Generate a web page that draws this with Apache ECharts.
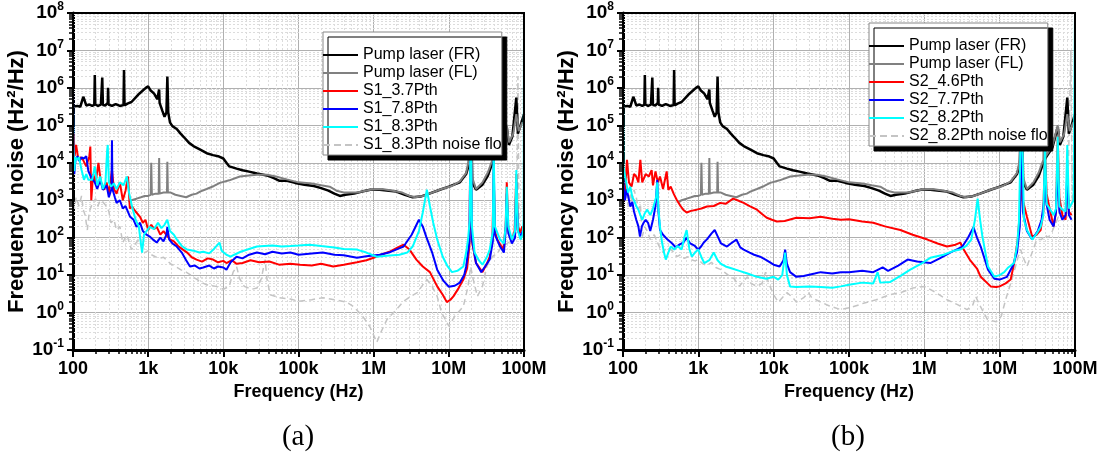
<!DOCTYPE html>
<html><head><meta charset="utf-8">
<script src="https://cdn.jsdelivr.net/npm/echarts@6/dist/echarts.min.js"></script>
<style>html,body{margin:0;padding:0;background:#fff}#c{width:1102px;height:459px}</style>
</head><body><div id="c"></div>
<script>
// ---- tick labels ----
const xTickValues = [100, 1e3, 1e4, 1e5, 1e6, 1e7, 1e8];
const xTickLabels = ['100', '1k', '10k', '100k', '1M', '10M', '100M'];
const yTickExponents = [-1, 0, 1, 2, 3, 4, 5, 6, 7, 8];

// ---- series names ----
const namesA = ['Pump laser (FR)', 'Pump laser (FL)', 'S1_3.7Pth', 'S1_7.8Pth', 'S1_8.3Pth', 'S1_8.3Pth noise floor'];
const namesB = ['Pump laser (FR)', 'Pump laser (FL)', 'S2_4.6Pth', 'S2_7.7Pth', 'S2_8.2Pth', 'S2_8.2Pth noise floor'];

// ---- data [frequency Hz, noise Hz^2/Hz] ----
const pumpFR = [[100,3.2e5],[105,3.0e5],[115,3.3e5],[125,3.1e5],[132,4.5e5],[137,5.8e5],[143,4.6e5],[150,3.4e5],[165,3.6e5],[180,3.3e5],[192,3.5e5],[195,2.2e6],[198,3.6e5],[215,3.3e5],[235,3.6e5],[245,1.9e6],[250,3.5e5],[270,3.4e5],[290,4.0e5],[293,1.0e6],[297,3.6e5],[330,3.3e5],[370,3.7e5],[420,3.3e5],[470,3.5e5],[477,3.0e6],[485,3.4e5],[530,3.8e5],[600,4.2e5],[680,5.5e5],[760,7.0e5],[850,8.5e5],[930,1.0e6],[1000,1.1e6],[1080,8.5e5],[1200,7.0e5],[1320,5.0e5],[1380,4.5e5],[1400,9.0e5],[1420,4.0e5],[1550,2.4e5],[1650,1.7e5],[1750,2.2e5],[1800,2.0e6],[1850,2.2e5],[1950,1.2e5],[2100,9.5e4],[2400,8.0e4],[2700,6.0e4],[3000,4.8e4],[3500,3.4e4],[4000,2.8e4],[5000,2.2e4],[6000,1.8e4],[7300,1.6e4],[8500,1.5e4],[10000,1.3e4],[11000,1.0e4],[12000,8.0e3],[15000,7.0e3],[18000,6.3e3],[22000,5.8e3],[28000,5.2e3],[38000,4.6e3],[47000,3.9e3],[56000,3.3e3],[70000,3.3e3],[90000,2.9e3],[120000,2.6e3],[160000,2.4e3],[200000,2.1e3],[250000,1.8e3],[300000,1.5e3],[355000,1.3e3],[420000,1.4e3],[550000,1.5e3],[700000,1.7e3],[900000,1.9e3],[1.2e6,1.9e3],[1.6e6,1.8e3],[2.0e6,1.7e3],[2.6e6,1.4e3],[3.3e6,1.2e3],[4.2e6,1.25e3],[5.5e6,1.5e3],[7.6e6,1.9e3],[1.0e7,2.3e3],[1.4e7,3.0e3],[1.7e7,5.0e3],[1.85e7,9e3],[1.95e7,1e6],[2.05e7,3e3],[2.3e7,1.9e3],[2.8e7,2.6e3],[3.3e7,4.5e3],[3.8e7,1.0e4],[4.2e7,1.5e4],[5e7,2.5e4],[5.9e7,9e4],[6.3e7,3e4],[7e7,5e4],[7.9e7,5.5e5],[8.3e7,6e4],[9e7,1e5],[1e8,2e5]];
const pumpFL = [[550,9e2],[600,1.0e3],[700,1.1e3],[800,1.2e3],[900,1.3e3],[1000,1.3e3],[1080,1.4e3],[1100,1.0e4],[1120,1.4e3],[1250,1.5e3],[1380,1.5e3],[1400,1.35e4],[1420,1.5e3],[1600,1.6e3],[1780,1.6e3],[1800,1.07e4],[1830,1.6e3],[2000,1.6e3],[2300,1.4e3],[2700,1.3e3],[3200,1.2e3],[3800,1.4e3],[4400,1.5e3],[4900,1.7e3],[6000,2.0e3],[7500,2.4e3],[9000,2.9e3],[12000,3.4e3],[16600,4.3e3],[22000,4.6e3],[28000,4.8e3],[38000,4.8e3],[50000,4.3e3],[70000,3.6e3],[100000,3.0e3],[150000,2.8e3],[200000,2.5e3],[260000,2.3e3],[320000,1.8e3],[400000,1.6e3],[600000,1.6e3],[900000,1.9e3],[1.3e6,2.0e3],[1.8e6,1.8e3],[2.4e6,1.6e3],[3.0e6,1.3e3],[3.6e6,1.2e3],[4.5e6,1.3e3],[6e6,1.6e3],[8e6,2.0e3],[1.1e7,2.4e3],[1.4e7,3.2e3],[1.7e7,5.4e3],[1.85e7,1.2e4],[1.95e7,1e6],[2.05e7,4e3],[2.3e7,2.0e3],[2.8e7,3.0e3],[3.3e7,5.5e3],[3.8e7,1.2e4],[3.95e7,1.6e6],[4.1e7,1.5e4],[5e7,2.8e4],[5.9e7,1e5],[6.3e7,3.5e4],[7.2e7,6e4],[7.9e7,2e5],[8.5e7,7e4],[9.5e7,1.2e5]];

const s1_37 = [[100,2e4],[102,6e4],[105,1.5e4],[110,3e4],[118,1.2e4],[125,1.4e4],[136,1.2e4],[150,8e3],[165,1.5e4],[170,2.7e4],[175,1e3],[185,5e3],[200,3e3],[218,1e4],[235,3e3],[260,1.9e3],[280,3e3],[300,1.5e3],[330,6.4e3],[350,2e3],[380,1.5e3],[420,3e3],[460,1e3],[500,1.8e3],[540,4.3e3],[570,600],[610,680],[680,500],[780,360],[850,250],[920,300],[1000,160],[1100,220],[1200,170],[1300,195],[1450,120],[1600,150],[1800,110],[1950,90],[2200,80],[2500,60],[2900,48],[3300,40],[3800,30],[4400,26],[5200,23],[6200,28],[7300,26],[8500,22],[10000,24],[11000,21],[13000,25],[15000,20],[18000,21],[23000,25],[30000,22],[41000,23],[55000,19],[78000,20],[105000,19],[150000,18],[200000,20],[290000,17],[400000,19],[600000,22],[800000,25],[1e6,29],[1.3e6,36],[1.66e6,43],[2.1e6,55],[2.5e6,65],[3e6,48],[3.7e6,26],[4.5e6,17],[5.6e6,12],[7e6,5],[8.3e6,3],[9.4e6,1.9],[10.5e6,2.2],[11.5e6,2.7],[13.5e6,4.5],[15.6e6,7.6],[17.5e6,15],[18.8e6,60],[19.5e6,2e5],[20.3e6,80],[23e6,21],[28e6,12],[32e6,20],[35e6,31],[38e6,90],[39.5e6,5.4e3],[41e6,150],[44e6,89],[53e6,48],[57e6,200],[59e6,3e3],[62e6,150],[69e6,89],[75e6,150],[79e6,5e3],[83e6,200],[89e6,135],[95e6,200]];
const s1_78 = [[100,1e6],[101,3e4],[104,5e3],[108,1.2e4],[115,1.5e4],[122,1.1e4],[130,1.4e4],[140,1.3e4],[150,1.5e4],[160,6e3],[175,4e3],[195,3e3],[210,2e3],[230,3.5e3],[250,1.9e3],[280,2.5e3],[300,1.2e3],[325,2e3],[330,4e4],[335,2e3],[360,1.2e3],[380,850],[420,1e3],[460,600],[500,700],[575,360],[640,300],[700,195],[780,250],[850,150],[950,120],[1050,107],[1150,90],[1300,74],[1450,100],[1600,80],[1750,120],[1800,195],[1900,90],[2100,70],[2400,58],[2800,40],[3200,25],[3600,17],[4200,18],[4800,15],[5400,16],[6500,18],[7500,15],[8500,17],[10000,16],[11000,14],[12500,22],[15000,31],[18000,28],[22000,35],[28000,40],[36000,36],[45000,42],[60000,38],[78000,40],[100000,35],[150000,38],[210000,40],[300000,35],[400000,34],[600000,29],[800000,32],[1.2e6,35],[1.6e6,40],[2.1e6,50],[2.5e6,58],[3.2e6,120],[4e6,300],[4.5e6,200],[5e6,107],[6e6,40],[7e6,14],[8.5e6,7],[10e6,4.9],[12e6,5.2],[14e6,6.3],[16e6,10],[17e6,17],[18.8e6,80],[19.5e6,2e5],[20.3e6,90],[23e6,21],[27e6,12],[31e6,18],[35e6,26],[38.5e6,80],[39.5e6,1.2e4],[41e6,120],[48e6,58],[54e6,40],[57e6,150],[59e6,1.5e3],[62e6,130],[69e6,70],[76e6,100],[79e6,3e3],[83e6,150],[90e6,110],[96e6,150]];
const s1_83 = [[100,4e5],[101,2.7e4],[104,6e3],[108,1.4e4],[113,1.2e4],[120,1.4e4],[130,6.4e3],[140,3.5e3],[150,5e3],[160,3.5e3],[180,3.5e3],[195,8e3],[210,2.5e3],[230,4.3e3],[250,2e3],[270,3e3],[285,2.2e4],[290,3e4],[300,3e3],[320,2.3e3],[350,2.8e3],[380,2e3],[420,3e3],[470,2.5e3],[520,4.3e3],[560,1.5e3],[610,680],[680,300],[750,200],[830,40],[880,120],[950,150],[1050,195],[1200,170],[1350,250],[1500,180],[1650,220],[1800,300],[1950,150],[2200,120],[2400,90],[2800,60],[3300,48],[4000,45],[4800,40],[5400,42],[6500,38],[7500,50],[8900,74],[9500,45],[11000,35],[12500,31],[14000,35],[17000,42],[22000,50],[28000,58],[35000,60],[45000,62],[60000,58],[78000,60],[100000,62],[140000,65],[200000,60],[300000,55],[400000,50],[600000,48],[800000,40],[1.1e6,31],[1.5e6,33],[2.2e6,35],[2.8e6,40],[3.3e6,58],[4e6,150],[4.5e6,470],[5.1e6,1.9e3],[5.6e6,700],[6.2e6,250],[7e6,90],[8.3e6,31],[9.5e6,18],[11e6,12],[13e6,13],[15.6e6,17],[17e6,40],[18e6,89],[19e6,300],[19.5e6,5e5],[20.3e6,200],[22e6,40],[25e6,25],[28e6,19],[32e6,30],[35e6,48],[38.5e6,150],[39.5e6,2.7e4],[41e6,200],[48e6,89],[54e6,70],[57e6,200],[59e6,2.3e3],[62e6,200],[69e6,89],[76e6,150],[79e6,6.4e3],[83e6,150],[90e6,89],[96e6,120],[99e6,300],[1e8,1e8]];
const s1_floor = [[100,800],[105,600],[110,1.2e3],[120,700],[130,1.3e3],[137,560],[145,400],[155,160],[165,500],[180,800],[200,1.1e3],[215,700],[230,1e3],[250,900],[280,680],[300,500],[320,250],[350,300],[380,160],[420,200],[460,74],[520,120],[600,48],[680,70],[750,89],[820,55],[900,40],[1000,45],[1100,35],[1250,31],[1400,28],[1600,30],[1800,24],[2000,20],[2300,17],[2700,14],[3200,12],[3700,10],[4300,8],[5000,6.5],[6000,5.5],[8000,5],[10000,4.2],[12000,5],[13500,12],[15000,17],[16500,8],[19000,5],[24000,4.2],[28000,4.5],[32000,8],[35000,20],[36000,26],[38000,8],[42000,3],[55000,2.5],[78000,2.3],[100000,2.0],[150000,2.2],[210000,2.5],[300000,2.2],[440000,1.9],[550000,1.4],[720000,0.78],[900000,0.4],[1.1e6,0.16],[1.25e6,0.3],[1.5e6,0.65],[2e6,1.2],[2.5e6,2],[3.2e6,2.8],[3.8e6,3.4],[4.5e6,5.5],[5.1e6,7.6],[6e6,5],[7e6,2.7],[8e6,1.0],[9e6,0.65],[10e6,0.43],[12e6,0.8],[15.6e6,1.45],[18e6,5],[19.5e6,17],[21e6,8],[24e6,2.7],[28e6,5],[32e6,17],[38e6,31],[45e6,40],[50e6,58],[60e6,70],[70e6,89],[80e6,150],[83e6,2e6],[86e6,120],[95e6,90]];

const s2_46 = [[100,2.3e3],[103,1e3],[107,2e3],[113,1.2e4],[120,3e3],[130,2.3e3],[140,5e3],[150,4.3e3],[160,3e3],[170,1.2e4],[180,3e3],[200,5e3],[220,4.3e3],[240,6.4e3],[250,2.5e3],[270,5.9e3],[290,3e3],[310,4.3e3],[340,2e3],[380,5.9e3],[400,1.9e3],[430,2.3e3],[470,1.5e3],[520,1e3],[580,700],[630,560],[700,470],[800,520],[950,560],[1100,600],[1300,680],[1600,700],[1950,850],[2300,800],[2900,1.1e3],[3500,950],[4000,850],[4800,700],[6000,560],[7000,430],[8100,340],[9500,300],[11000,270],[14000,280],[20000,340],[30000,330],[42000,360],[60000,320],[78000,300],[100000,310],[150000,270],[210000,250],[300000,200],[480000,160],[700000,120],[1.1e6,89],[1.5e6,70],[2.0e6,58],[2.6e6,65],[3e6,74],[3.3e6,50],[4e6,26],[5e6,15],[5.6e6,9],[7.6e6,5],[9e6,4.8],[10e6,5],[12e6,6],[14e6,7.6],[15.5e6,20],[17.4e6,89],[19e6,1e3],[19.5e6,3e5],[20.3e6,1e3],[23e6,360],[27e6,107],[31e6,120],[35e6,160],[38e6,500],[40e6,2.2e4],[42e6,1.5e3],[46e6,600],[52e6,200],[56e6,500],[59e6,5e4],[62e6,1.2e3],[68e6,400],[75e6,300],[79e6,3e3],[83e6,500],[90e6,400]];
const s2_77 = [[100,6e3],[102,2.3e3],[106,1e3],[112,2e3],[118,1.9e3],[125,680],[133,900],[140,500],[150,300],[160,200],[168,107],[178,200],[188,250],[200,300],[215,250],[230,150],[250,300],[270,700],[285,3.5e3],[295,500],[310,160],[340,120],[390,89],[450,70],[500,55],[560,65],[630,74],[700,100],[780,70],[900,60],[1000,48],[1100,60],[1180,74],[1300,90],[1500,130],[1650,160],[1800,110],[2000,70],[2400,58],[2700,70],[3200,89],[3600,55],[4000,48],[4800,40],[5500,35],[6600,31],[8000,25],[10000,19],[12000,17],[13500,25],[14200,48],[15000,20],[16500,12],[20000,9],[25000,9.5],[35000,11],[42000,12],[60000,11],[78000,12],[100000,12],[150000,13],[210000,12],[280000,16],[330000,13],[450000,18],[600000,26],[800000,23],[1.2e6,21],[1.6e6,28],[2.2e6,40],[2.8e6,50],[3.2e6,58],[3.8e6,100],[4.5e6,190],[5e6,100],[5.6e6,58],[7e6,14],[8.5e6,8],[10e6,7.6],[12.5e6,9],[15e6,18],[17e6,40],[18.5e6,200],[19.5e6,3e5],[20.3e6,500],[23e6,150],[27e6,89],[32e6,150],[36e6,300],[39e6,1e3],[40e6,1e4],[41e6,1e3],[46e6,300],[52e6,200],[56e6,500],[59e6,8e3],[62e6,500],[68e6,300],[75e6,400],[79e6,5e3],[83e6,400],[90e6,300]];
const s2_82 = [[100,1e6],[101,8e3],[105,5.4e3],[110,3e3],[117,1.6e3],[125,2.3e3],[133,1.2e3],[140,1e3],[150,700],[160,560],[170,400],[180,300],[195,450],[210,560],[230,400],[250,600],[275,1.2e3],[285,3e3],[295,600],[310,195],[330,74],[350,40],[370,26],[400,40],[430,58],[480,48],[530,60],[600,48],[650,100],[700,160],[760,50],[820,31],[900,40],[1000,48],[1100,30],[1200,21],[1400,25],[1600,40],[1800,25],[2000,20],[2300,17],[2800,15],[3500,13],[4500,11],[6000,9],[8000,8],[10000,9],[11500,7.6],[13000,10],[14200,40],[15000,10],[16500,5],[20000,4.8],[30000,5],[42000,4.8],[60000,4.6],[78000,5],[100000,5.5],[150000,6.3],[210000,6],[240000,12],[260000,6.3],[350000,6.5],[500000,10],[650000,14],[900000,20],[1.2e6,29],[1.8e6,35],[2.5e6,45],[3e6,48],[3.6e6,60],[4.2e6,89],[4.7e6,300],[5.1e6,1.1e3],[5.5e6,300],[5.9e6,107],[7e6,17],[8.5e6,9],[10e6,10],[11.5e6,12],[13e6,16],[15.5e6,21],[17e6,60],[18e6,250],[19.5e6,5e5],[21e6,300],[23e6,160],[27e6,89],[31e6,130],[35e6,195],[38e6,400],[40e6,3e4],[42e6,800],[47e6,560],[52e6,400],[56e6,600],[59e6,5e4],[62e6,700],[68e6,560],[75e6,500],[79e6,3e4],[83e6,600],[90e6,800],[96e6,1e3],[1e8,1e8]];
const s2_floor = [[100,4.3e3],[103,1.2e3],[107,2.5e3],[113,1.2e3],[118,680],[125,1.6e3],[132,850],[140,1.9e3],[150,1.2e3],[160,560],[170,800],[180,107],[195,195],[210,150],[230,89],[260,120],[300,60],[340,40],[380,55],[430,48],[480,40],[520,31],[580,35],[650,28],[730,31],[800,26],[900,24],[1000,26],[1150,20],[1300,18],[1500,22],[1700,16],[2000,14],[2500,10],[3000,8],[3500,5],[4000,7],[4500,9],[5000,6],[6000,5],[7000,6],[7800,12],[8600,6],[10000,3],[11500,1.9],[13000,2.5],[15000,3.4],[18000,2.5],[20000,1.9],[25000,2.5],[29000,3.4],[32000,2.5],[40000,2],[55000,1.5],[78000,1.2],[110000,1.4],[160000,1.8],[230000,2.2],[350000,3],[500000,3.5],[700000,4.5],[1e6,5],[1.4e6,3.5],[2e6,2.2],[2.8e6,1.6],[3.7e6,1.2],[4.4e6,1.6],[4.8e6,2.7],[5.5e6,1.5],[6.9e6,0.65],[9e6,0.57],[10.5e6,0.8],[12e6,2.2],[14e6,6],[15.5e6,12],[17.5e6,30],[19e6,48],[20.5e6,30],[23e6,17],[27e6,40],[31e6,89],[36e6,89],[40e6,120],[44e6,100],[50e6,150],[58e6,300],[65e6,560],[72e6,800],[80e6,1e3],[88e6,1e7],[92e6,1e3],[98e6,2e3]];

// ---- helpers (styling only) ----
const FONT = 'Liberation Sans';
const minorX = [], minorY = [];
for (let e = 2; e < 8; e++) for (let m = 2; m <= 9; m++) minorX.push(m * Math.pow(10, e));
for (let e = -1; e < 8; e++) for (let m = 2; m <= 9; m++) minorY.push(+(m * Math.pow(10, e)).toPrecision(3));

function xLabel(v) {
  for (let i = 0; i < xTickValues.length; i++) if (Math.abs(Math.log10(v) - Math.log10(xTickValues[i])) < 1e-6) return xTickLabels[i];
  return '';
}
function yLabel(v) {
  const e = Math.round(Math.log10(v));
  return yTickExponents.indexOf(e) >= 0 ? '{b|10}{s|' + e + '}' : '';
}

const xAxes = [], yAxes = [];
function addAxes(gi) {
  xAxes.push({
    type: 'log', logBase: 10, gridIndex: gi, min: 100, max: 1e8, position: 'bottom',
    name: 'Frequency (Hz)', nameLocation: 'middle', nameGap: 33,
    nameTextStyle: { fontFamily: FONT, fontWeight: 'bold', fontSize: 18, color: '#000' },
    axisLine: { onZero: false, lineStyle: { color: '#000', width: 3 } },
    axisTick: { show: true, inside: false, length: 7, lineStyle: { color: '#000', width: 2 } },
    axisLabel: { formatter: xLabel, margin: 10, fontFamily: FONT, fontWeight: 'bold', fontSize: 18, color: '#000' },
    splitLine: { show: true, lineStyle: { color: '#b0b0b0', width: 1 } },
    minorTick: { show: false }
  });
  xAxes.push({
    type: 'log', logBase: 10, gridIndex: gi, min: 100, max: 1e8, position: 'bottom',
    axisLine: { show: false },
    axisTick: { show: true, inside: false, length: 4, customValues: minorX, lineStyle: { color: '#000', width: 1.5 } },
    axisLabel: { show: false },
    splitLine: { show: false }
  });
  yAxes.push({
    type: 'log', logBase: 10, gridIndex: gi, min: 0.1, max: 1e8, position: 'left', splitNumber: 9,
    name: 'Frequency noise (Hz²/Hz)', nameLocation: 'middle', nameGap: 45,
    nameTextStyle: { fontFamily: FONT, fontWeight: 'bold', fontSize: 22, color: '#000' },
    axisLine: { onZero: false, lineStyle: { color: '#000', width: 3 } },
    axisTick: { show: true, inside: false, length: 6, lineStyle: { color: '#000', width: 2 } },
    axisLabel: {
      formatter: yLabel, margin: 9, color: '#000',
      rich: {
        b: { fontFamily: FONT, fontWeight: 'bold', fontSize: 19, lineHeight: 24, color: '#000' },
        s: { fontFamily: FONT, fontWeight: 'bold', fontSize: 12, lineHeight: 24, verticalAlign: 'top', color: '#000' }
      }
    },
    splitLine: { show: true, lineStyle: { color: '#b0b0b0', width: 1 } }
  });
  yAxes.push({
    type: 'log', logBase: 10, gridIndex: gi, min: 0.1, max: 1e8, position: 'left',
    axisLine: { show: false },
    axisTick: { show: true, inside: false, length: 4, customValues: minorY, lineStyle: { color: '#000', width: 1.5 } },
    axisLabel: { show: false },
    splitLine: { show: false }
  });
}
addAxes(0); addAxes(1);

function minorGridSeries(ai) {
  return {
    type: 'line', name: '_grid' + ai, xAxisIndex: ai, yAxisIndex: ai, data: [[1000, 1]], z: 1,
    symbol: 'none', lineStyle: { opacity: 0 }, silent: true,
    markLine: {
      silent: true, symbol: 'none', label: { show: false }, animation: false, z: 1,
      lineStyle: { color: '#dcdcdc', width: 1, type: [2, 2] },
      emphasis: { disabled: true },
      data: minorX.map(v => ({ xAxis: v })).concat(minorY.map(v => ({ yAxis: v })))
    }
  };
}

const colors = ['#000000', '#808080', '#ff0000', '#0000ff', '#00ffff', '#c4c4c4'];
function panelSeries(ai, names, datasets) {
  return datasets.map((d, i) => ({
    type: 'line', name: names[i], xAxisIndex: ai, yAxisIndex: ai, data: d,
    symbol: 'none', showSymbol: false, z: i === 5 ? 2 : 3,
    color: colors[i],
    lineStyle: { color: colors[i], width: i === 0 ? 2.5 : (i === 5 ? 1.5 : 2), type: i === 5 ? [6, 4] : 'solid' },
    emphasis: { disabled: true }
  }));
}

const SOLID_ICON = 'path://M0,0L35,0L35,2L0,2Z';
const DASH_ICON = 'path://M0,0h7v2h-7zM11,0h7v2h-7zM22,0h7v2h-7zM33,0h2v2h-2z';
function legendFor(names, left, top) {
  return {
    data: names.map((n, i) => ({ name: n, icon: i === 5 ? DASH_ICON : SOLID_ICON })),
    orient: 'vertical', left: left, top: top, selectedMode: false, z: 10,
    backgroundColor: '#fff', borderColor: '#888', borderWidth: 1,
    shadowColor: '#000', shadowBlur: 0, shadowOffsetX: 5, shadowOffsetY: 5,
    padding: [15, 0, 2, 0], itemGap: 2, itemWidth: 35, itemHeight: 2,
    textStyle: { fontFamily: FONT, fontSize: 16, color: '#000', width: 144, overflow: 'truncate', ellipsis: '' }
  };
}

const option = {
  animation: false,
  backgroundColor: '#fff',
  grid: [
    { left: 73, top: 13, width: 451, height: 337, show: true, borderColor: '#000', borderWidth: 2, backgroundColor: 'transparent', z: 5 },
    { left: 623, top: 13, width: 452, height: 337, show: true, borderColor: '#000', borderWidth: 2, backgroundColor: 'transparent', z: 5 }
  ],
  xAxis: xAxes,
  yAxis: yAxes,
  legend: [legendFor(namesA, 323, 32), legendFor(namesB, 869, 23)],
  graphic: [
    { type: 'text', x: 298, y: 437, style: { text: '(a)', font: '29px "Liberation Serif"', fill: '#000', textAlign: 'center', textVerticalAlign: 'middle', align: 'center', verticalAlign: 'middle' } },
    { type: 'text', x: 848, y: 437, style: { text: '(b)', font: '29px "Liberation Serif"', fill: '#000', textAlign: 'center', textVerticalAlign: 'middle', align: 'center', verticalAlign: 'middle' } }
  ],
  series: [minorGridSeries(0), minorGridSeries(2)]
    .concat(panelSeries(0, namesA, [pumpFR, pumpFL, s1_37, s1_78, s1_83, s1_floor]))
    .concat(panelSeries(2, namesB, [pumpFR, pumpFL, s2_46, s2_77, s2_82, s2_floor]))
};

const chart = echarts.init(document.getElementById('c'), null, { renderer: 'canvas' });
chart.setOption(option);
</script>
</body></html>
